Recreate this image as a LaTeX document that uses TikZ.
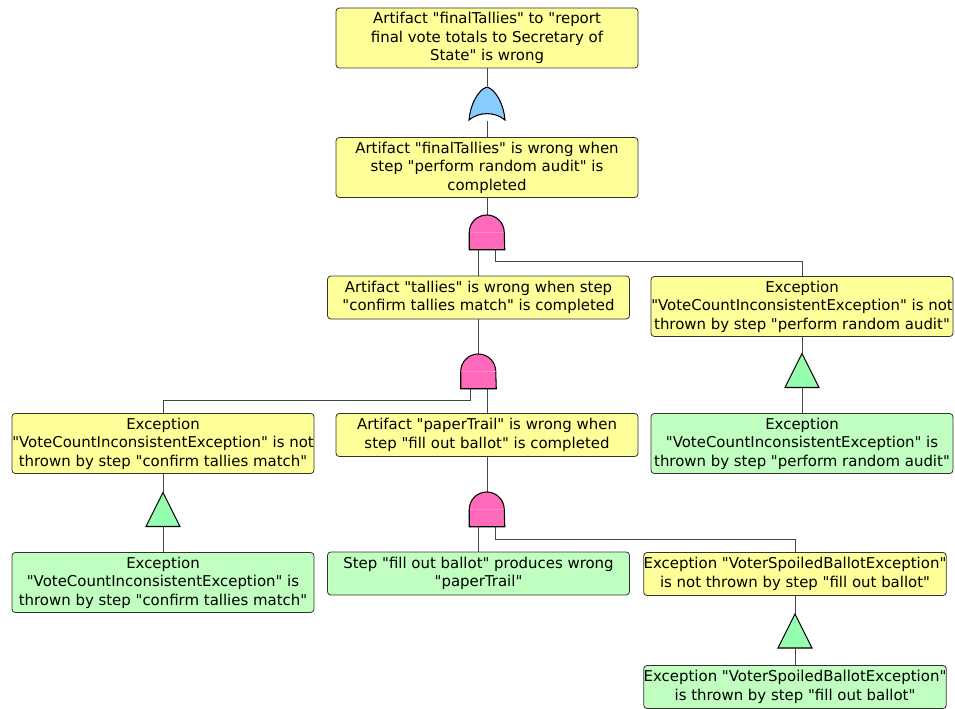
\documentclass[tikz,border=0pt]{standalone}
\usepackage{fontspec}
\setmainfont{DejaVu Sans}[Ligatures=TeXOff]
\usetikzlibrary{calc}
\definecolor{boxyellow}{RGB}{255,255,153}
\definecolor{boxgreen}{RGB}{192,255,192}
\definecolor{trigreen}{RGB}{150,255,175}
\definecolor{andpink}{RGB}{255,105,185}
\definecolor{orblue}{RGB}{135,204,255}
\definecolor{edgegray}{RGB}{50,50,50}
\definecolor{linegray}{RGB}{70,70,70}
\tikzset{
  x=0.75pt, y=-0.75pt,
  evbox/.style={rectangle, rounded corners=2.5pt, draw=edgegray, line width=0.6pt,
     minimum width=226.5pt, inner xsep=0pt, inner ysep=2pt, align=center,
     font=\fontsize{11.2}{13.9}\selectfont},
  ybox/.style={evbox, fill=boxyellow},
  gbox/.style={evbox, fill=boxgreen},
  tall/.style={minimum height=45pt},
  short/.style={minimum height=32.25pt},
  gatebox/.style={rectangle, draw=none, minimum width=26.25pt, minimum height=25.5pt, inner sep=0pt},
  andshape/.style={draw=black, line width=0.8pt, fill=andpink},
  orshape/.style={draw=black, line width=0.8pt, fill=orblue},
  trishape/.style={draw=black, line width=0.8pt, fill=trigreen},
  conn/.style={draw=linegray, line width=0.7pt},
}
\newcommand{\andgate}[1]{%
  \draw[andshape] (#1.south west) -- (#1.west) arc[start angle=180, end angle=0, radius=13.125pt] -- (#1.south east) -- cycle;
  \draw[andpink!80!white, line width=0.3pt] ([xshift=0.5pt]#1.west) -- ([xshift=-0.5pt]#1.east);}
\newcommand{\orgate}[1]{%
  \draw[orshape, shift={(#1.center)}] (-18,16.5) .. controls (-17,2) and (-9,-14) .. (0,-16.5)
     .. controls (9,-14) and (17,2) .. (18,16.5) .. controls (8,8) and (-8,8) .. cycle;}
\newcommand{\trigate}[1]{%
  \draw[trishape, shift={(#1.center)}] (-17,17) -- (0,-17) -- (17,17) -- cycle;}
\begin{document}
\begin{tikzpicture}
\useasboundingbox (0,0) rectangle (955,709);
% event boxes
\node[ybox, tall] (A) at (487,38) {Artifact "finalTallies" to "report\\final vote totals to Secretary of\\State" is wrong};
\node[ybox, tall] (B) at (487,167.5) {Artifact "finalTallies" is wrong when\\step "perform random audit" is\\completed};
\node[ybox, short] (C) at (478.5,297.5) {Artifact "tallies" is wrong when step\\"confirm tallies match" is completed};
\node[ybox, tall] (D) at (802,306.5) {Exception\\"VoteCountInconsistentException" is not\\thrown by step "perform random audit"};
\node[gbox, tall] (E) at (802,443.5) {Exception\\"VoteCountInconsistentException" is\\thrown by step "perform random audit"};
\node[ybox, tall] (G) at (163,443.5) {Exception\\"VoteCountInconsistentException" is not\\thrown by step "confirm tallies match"};
\node[ybox, short] (F) at (487,435) {Artifact "paperTrail" is wrong when\\step "fill out ballot" is completed};
\node[gbox, tall] (H) at (163,582.5) {Exception\\"VoteCountInconsistentException" is\\thrown by step "confirm tallies match"};
\node[gbox, short] (I) at (478.5,573.5) {Step "fill out ballot" produces wrong\\"paperTrail"};
\node[ybox, short] (J) at (795,574) {Exception "VoterSpoiledBallotException"\\is not thrown by step "fill out ballot"};
\node[gbox, short] (K) at (795,687) {Exception "VoterSpoiledBallotException"\\is thrown by step "fill out ballot"};
% gates
\node[gatebox] (or1) at (487,103.5) {};
\node[gatebox] (and1) at (487,232.5) {};
\node[gatebox] (and2) at (478.5,371.5) {};
\node[gatebox] (and3) at (487,509.5) {};
\node[gatebox] (trr) at (802,370.5) {};
\node[gatebox] (trl) at (163,509.5) {};
\node[gatebox] (trb) at (795,631) {};
% connectors
\draw[conn] (A.south) -- (or1.north);
\draw[conn] (or1.south) -- (B.north);
\draw[conn] (B.south) -- (and1.north);
\draw[conn] (and1.south -| C.north) -- (C.north);
\draw[conn] ([xshift=6pt]and1.south) -- ++(0,12) -| (D.north);
\draw[conn] (D.south) -- (trr.north);
\draw[conn] (trr.south) -- (E.north);
\draw[conn] (C.south) -- (and2.north);
\draw[conn] (F.north |- and2.south) -- (F.north);
\draw[conn] ([xshift=-6.4pt]and2.south) -- ++(0,12) -| (G.north);
\draw[conn] (G.south) -- (trl.north);
\draw[conn] (trl.south) -- (H.north);
\draw[conn] (F.south) -- (and3.north);
\draw[conn] (I.north |- and3.south) -- (I.north);
\draw[conn] ([xshift=6pt]and3.south) -- ++(0,12.5) -| (J.north);
\draw[conn] (J.south) -- (trb.north);
\draw[conn] (trb.south) -- (K.north);
% gate shapes
\orgate{or1}
\andgate{and1}
\andgate{and2}
\andgate{and3}
\trigate{trr}
\trigate{trl}
\trigate{trb}
\end{tikzpicture}
\end{document}
